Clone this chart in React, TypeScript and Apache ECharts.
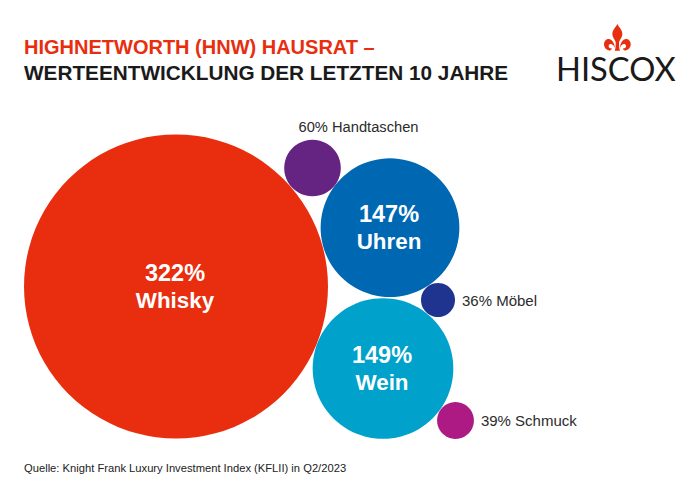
import { useEffect, useRef } from "react";
import * as echarts from "echarts";

const categories = ["Whisky", "Uhren", "Wein", "Handtaschen", "Möbel", "Schmuck"];
const growth = [322, 147, 149, 60, 36, 39];
const colors = ["#e82e0e", "#0068b3", "#00a2cb", "#662482", "#1f348f", "#ae1a84"];
// bubble layout on the hidden axes
const layoutX = [176, 390, 383, 312.5, 438, 455.5];
const layoutY = [286.5, 227.7, 368.5, 168, 300, 420.5];
const labelSides = ["inside", "inside", "inside", "top", "right", "right"];

const titleLine1 = "HIGHNETWORTH (HNW) HAUSRAT –";
const titleLine2 = "WERTEENTWICKLUNG DER LETZTEN 10 JAHRE";
const sourceNote = "Quelle: Knight Frank Luxury Investment Index (KFLII) in Q2/2023";

const FONT = "'Liberation Sans', Arial, sans-serif";

// Hiscox-Lilie, gezeichnet in einer 80x80-Box
const fleurPath =
  "M40 0 C45 10 55 18 55 30 C55 40 48 46 45 54 L45 62 C45 68 46 75 48 80 L32 80 C34 75 35 68 35 62 L35 54 C32 46 25 40 25 30 C25 18 35 10 40 0 Z " +
  "M48 68 C50 52 60 44 69 45 C76 46 80 54 80 61 C80 71 72 80 62 79 C59 78 57 76 56 73 C62 74 67 70 66 65 C65 60 60 59 57 61 C53 63 50 66 48 72 Z " +
  "M32 68 C30 52 20 44 11 45 C4 46 0 54 0 61 C0 71 8 80 18 79 C21 78 23 76 24 73 C18 74 13 70 14 65 C15 60 20 59 23 61 C27 63 30 66 32 72 Z";

echarts.graphic.registerShape("fleur", echarts.graphic.extendPath(fleurPath, {}));

export default function App() {
  const chartRef = useRef<HTMLDivElement>(null);

  useEffect(() => {
    if (!chartRef.current) return;
    const chart = echarts.init(chartRef.current, undefined, { renderer: "svg" });

    chart.setOption({
      animation: false,
      backgroundColor: "#ffffff",
      textStyle: { fontFamily: FONT },
      grid: { left: 0, right: 0, top: 0, bottom: 0 },
      xAxis: { type: "value", min: 0, max: 700, show: false },
      yAxis: { type: "value", min: 0, max: 497, inverse: true, show: false },
      series: [
        {
          type: "scatter",
          data: categories.map((name, i) => ({
            name,
            value: [layoutX[i], layoutY[i], growth[i]],
            itemStyle: { color: colors[i], opacity: 1 },
            label:
              labelSides[i] === "inside"
                ? {
                    show: true,
                    position: "inside",
                    offset: [-1, 0],
                    formatter: `{pct|${growth[i]}%}\n{name|${name}}`,
                    rich: {
                      pct: {
                        color: "#ffffff",
                        fontFamily: FONT,
                        fontWeight: "bold",
                        fontSize: 23.5,
                        lineHeight: 27,
                      },
                      name: {
                        color: "#ffffff",
                        fontFamily: FONT,
                        fontWeight: "bold",
                        fontSize: 22.4,
                        lineHeight: 27,
                      },
                    },
                  }
                : {
                    show: true,
                    position: labelSides[i],
                    distance: labelSides[i] === "top" ? 8 : 7,
                    offset: labelSides[i] === "top" ? [46, 3] : [0, 0],
                    formatter: `${growth[i]}% ${name}`,
                    color: "#2b2b2b",
                    fontFamily: FONT,
                    fontSize: labelSides[i] === "top" ? 14.7 : 15,
                  },
          })),
          symbol: "circle",
          symbolSize: (v: number[]) => v[2] * 0.944,
        },
      ],
      graphic: [
        {
          type: "text",
          x: 24,
          y: 37,
          style: { text: titleLine1, fill: "#e82e0e", font: `bold 20px ${FONT}` },
        },
        {
          type: "text",
          x: 24,
          y: 61.5,
          style: { text: titleLine2, fill: "#1a1a1a", font: `bold 20.75px ${FONT}` },
        },
        {
          type: "text",
          x: 24,
          y: 462,
          style: { text: sourceNote, fill: "#222222", font: `11.2px ${FONT}` },
        },
        {
          type: "fleur",
          x: 604,
          y: 24,
          scaleX: 26.7 / 80,
          scaleY: 26.7 / 80,
          style: { fill: "#e82e0e" },
        },
        {
          type: "text",
          x: 556,
          y: 51.5,
          style: { text: "HISCOX", fill: "#1a1a1a", font: "32.7px Lato, sans-serif" },
        },
      ],
    });

    return () => chart.dispose();
  }, []);

  return <div ref={chartRef} style={{ position: "fixed", left: 0, top: 0, width: 700, height: 497 }} />;
}
